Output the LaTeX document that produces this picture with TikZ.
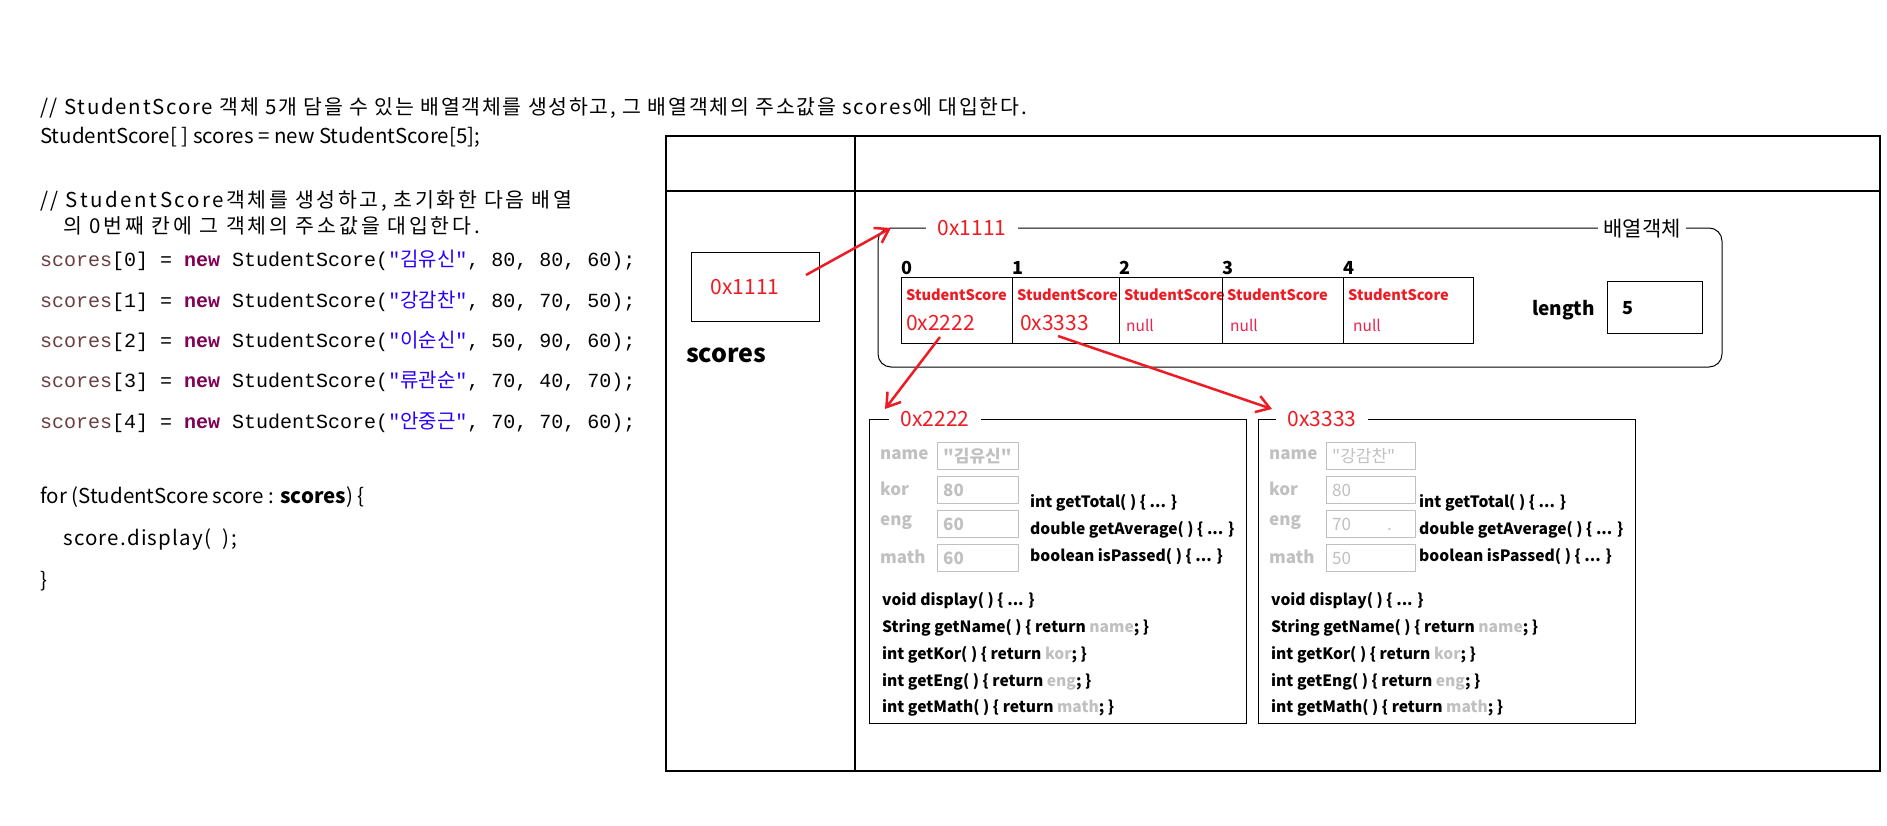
\documentclass[tikz,border=0pt]{standalone}
\usepackage{fontspec}
\setmainfont{Noto Sans CJK KR}
\setmonofont{Liberation Mono}
\newfontfamily\krfont{Noto Sans CJK KR}
\usetikzlibrary{arrows.meta,positioning}

\definecolor{addrred}{RGB}{237,28,36}
\definecolor{nullred}{RGB}{235,35,80}
\definecolor{fieldgray}{RGB}{192,192,192}
\definecolor{localvar}{RGB}{106,62,62}
\definecolor{keyword}{RGB}{127,0,85}
\definecolor{strblue}{RGB}{42,0,255}
\newcommand{\setfs}[1]{\fontsize{#1}{#1}\selectfont}

\begin{document}
\begin{tikzpicture}[x=1pt,y=-1pt,
every node/.style={inner sep=0pt},
prose/.style={anchor=west,font=\setfs{20.5}},
wideprose/.style={anchor=west,font=\setfs{20.5}\addfontfeature{LetterSpace=#1}},
code/.style={anchor=west,font=\ttfamily\setfs{20}},
method/.style={anchor=west,font=\bfseries\setfs{15.6}},
field/.style={anchor=west,text=fieldgray,font=\bfseries\setfs{17}},
valbox/.style={draw=fieldgray,line width=1pt,minimum height=27pt,anchor=west},
cell/.style={draw,line width=1pt,anchor=north west,minimum height=66pt},
onborder/.style={fill=white,inner xsep=12pt,inner ysep=2pt},
ref/.style={draw=addrred,line width=2.5pt,-{Straight Barb[length=13pt,width=17pt]}}
]
\useasboundingbox (0,0) rectangle (1887,825);

% source code on the left
\node[wideprose=8.5] (cmt1) at (40,108) {// StudentScore 객체 5개 담을 수 있는 배열객체를 생성하고, 그 배열객체의 주소값을 scores에 대입한다.};
\node[prose] (decl) at (40,137) {StudentScore[ ] scores = new StudentScore[5];};
\node[wideprose=12.5] (cmt2) at (40,201) {// StudentScore객체를 생성하고, 초기화한 다음 배열};
\node[wideprose=14] (cmt3) at (63,226) {의 0번째 칸에 그 객체의 주소값을 대입한다.};
\foreach \i/\nm/\k/\e/\m/\y in {0/김유신/80/80/60/260, 1/강감찬/80/70/50/301, 2/이순신/50/90/60/341, 3/류관순/70/40/70/381, 4/안중근/70/70/60/422}
  \node[code] (line\i) at (40,\y) {\textcolor{localvar}{scores}[\i] = \textcolor{keyword}{\bfseries new} StudentScore(\textcolor{strblue}{"{\krfont\nm}"}, \k, \e, \m);};
\node[prose] (loop) at (40,497) {for (StudentScore score : \textbf{scores}) \{};
\node[wideprose=6] (body) at (63,540) {score.display( \ );};
\node[prose] (close) at (40,581) {\}};

% stack | heap frame
\draw[line width=1.2pt] (666,136) rectangle (1880,771);
\draw[line width=1.2pt] (666,191) -- (1880,191);
\draw[line width=1.2pt] (855,136) -- (855,771);

% stack variable
\node[draw,line width=1pt,minimum width=128pt,minimum height=69pt] (scores) at (755,286.5) {};
\node[text=addrred,font=\setfs{21}] (scoresval) at (745,287) {0x1111};
\node[anchor=west,font=\bfseries\setfs{25}] (scoreslbl) at (686,355) {scores};

% array object
\node[draw,line width=1pt,rounded corners=13pt,minimum width=844pt,minimum height=139pt] (arrobj) at (1300,297.5) {};
\node[onborder,text=addrred,font=\setfs{21}] (arraddr) at (972,228) {0x1111};
\node[onborder,inner xsep=5pt,font=\setfs{21}] (arrtype) at (1642,229) {배열객체};
\foreach \i/\xa/\xb in {0/901/1012,1/1012/1119,2/1119/1222,3/1222/1343,4/1343/1473} {
  \node[cell,minimum width={(\xb-\xa)*1pt}] (cell\i) at (\xa,277) {};
  \node[anchor=west,font=\bfseries\setfs{18}] (idx\i) at (\xa,268) {\i};
  \node[anchor=west,text=addrred,font=\bfseries\setfs{14.6}] (type\i) at (\xa+5,295) {StudentScore};
}
\node[anchor=west,text=addrred,font=\setfs{21}] (val0) at (906,323) {0x2222};
\node[anchor=west,text=addrred,font=\setfs{21}] (val1) at (1020,323) {0x3333};
\foreach \i/\xa in {2/1126,3/1230,4/1353}
  \node[anchor=west,text=nullred,font=\setfs{15.5}] (val\i) at (\xa,325) {null};
\node[draw,line width=1pt,minimum width=95pt,minimum height=52pt] (lenbox) at (1654.5,307) {};
\node[anchor=west,font=\bfseries\setfs{18}] (lenval) at (1622,308) {5};
\node[anchor=east,font=\bfseries\setfs{19}] (lenlbl) at (1595,310) {length};

% student objects
\foreach \o/\ox/\ad/\adx/\nm/\k/\e/\m/\bw/\wt in {1/869/0x2222/935/\textquotedbl 김유신\textquotedbl/80/60/60/81/\bfseries, 2/1258/0x3333/1322/\textquotedbl 강감찬\textquotedbl/80/70\hspace{36pt}./50/89/\mdseries} {
  \node[draw,line width=1pt,anchor=north west,minimum width=377pt,minimum height=304pt] (obj\o) at (\ox,419) {};
  \node[onborder,text=addrred,font=\setfs{21}] (addr\o) at (\adx,419) {\ad};
  \foreach \f/\v/\dy in {name/\nm/37,kor/\k/71,eng/\e/105,math/\m/139} {
    \node[field] (\f-\o) at (\ox+11,419+\dy-1) {\f};
    \node[valbox,minimum width=\bw pt] (\f-box-\o) at (\ox+68,419+\dy) {};
    \node[anchor=west,text=fieldgray,font=\wt\setfs{17}] (\f-val-\o) at (\ox+74,419+\dy) {\v};
  }
  \node[method] (tot\o) at (\ox+161,503) {int getTotal( ) \{ ... \}};
  \node[method] (avg\o) at (\ox+161,530) {double getAverage( ) \{ ... \}};
  \node[method] (pass\o) at (\ox+161,557) {boolean isPassed( ) \{ ... \}};
  \node[method] (disp\o) at (\ox+13,601) {void display( ) \{ ... \}};
  \node[method] (gname\o) at (\ox+13,628) {String getName( ) \{ return \textcolor{fieldgray}{name}; \}};
  \node[method] (gkor\o) at (\ox+13,655) {int getKor( ) \{ return \textcolor{fieldgray}{kor}; \}};
  \node[method] (geng\o) at (\ox+13,682) {int getEng( ) \{ return \textcolor{fieldgray}{eng}; \}};
  \node[method] (gmath\o) at (\ox+13,708) {int getMath( ) \{ return \textcolor{fieldgray}{math}; \}};
}

% references
\coordinate (from0) at (806,275);
\coordinate (to0) at (891,228);
\coordinate (from1) at (940,337);
\coordinate (to1) at (885,409);
\coordinate (from2) at (1058,336);
\coordinate (to2) at (1272,409);
\draw[ref] (from0) -- (to0);
\draw[ref] (from1) -- (to1);
\draw[ref] (from2) -- (to2);
\end{tikzpicture}
\end{document}
